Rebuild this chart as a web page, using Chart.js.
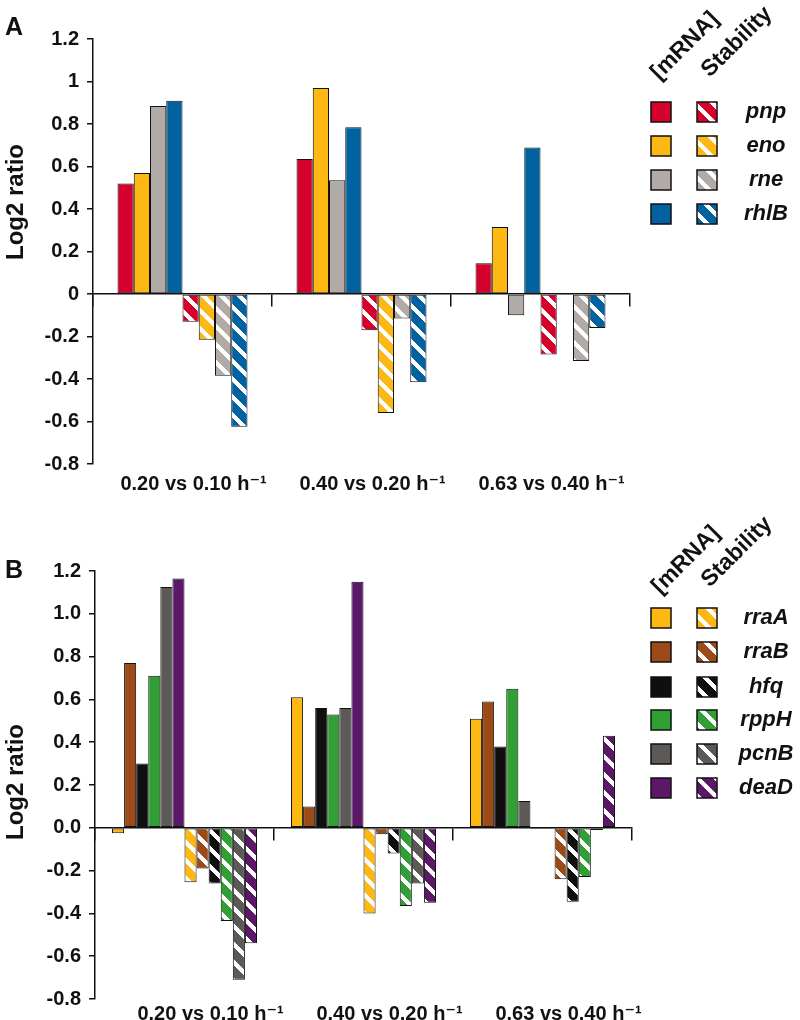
<!DOCTYPE html>
<html>
<head>
<meta charset="utf-8">
<title>Log2 ratio - mRNA and stability</title>
<script src="https://cdn.jsdelivr.net/npm/chart.js"></script>
<style>
body { margin: 0; background: #fff; }
canvas { display: block; }
</style>
</head>
<body>
<canvas id="chartA" width="800" height="510"></canvas>
<canvas id="chartB" width="800" height="510"></canvas>

<script>
// categories (growth rate comparisons)
const categories = ['0.20 vs 0.10 h\u207B\u00B9', '0.40 vs 0.20 h\u207B\u00B9', '0.63 vs 0.40 h\u207B\u00B9'];

// panel A
const genesA = ['pnp', 'eno', 'rne', 'rhlB'];
const colorsA = ['#D5002B', '#FDB813', '#B2AAA6', '#0062A1'];
const pnpMRNA  = [0.52, 0.635, 0.145];
const enoMRNA  = [0.57, 0.97, 0.315];
const rneMRNA  = [0.885, 0.535, -0.10];
const rhlBMRNA = [0.91, 0.785, 0.69];
const pnpStab  = [-0.13, -0.17, -0.285];
const enoStab  = [-0.215, -0.56, -0.005];
const rneStab  = [-0.385, -0.115, -0.315];
const rhlBStab = [-0.625, -0.415, -0.16];

// panel B
const genesB = ['rraA', 'rraB', 'hfq', 'rppH', 'pcnB', 'deaD'];
const colorsB = ['#FDB813', '#9C4A17', '#0F0F0F', '#30A035', '#5D5957', '#5D1769'];
const rraAMRNA = [-0.025, 0.61, 0.51];
const rraBMRNA = [0.77, 0.10, 0.59];
const hfqMRNA  = [0.30, 0.56, 0.38];
const rppHMRNA = [0.71, 0.53, 0.65];
const pcnBMRNA = [1.125, 0.56, 0.125];
const deaDMRNA = [1.165, 1.15, -0.006];
const rraAStab = [-0.255, -0.40, -0.006];
const rraBStab = [-0.19, -0.03, -0.24];
const hfqStab  = [-0.26, -0.12, -0.345];
const rppHStab = [-0.435, -0.365, -0.23];
const pcnBStab = [-0.71, -0.26, -0.01];
const deaDStab = [-0.54, -0.35, 0.43];

// y axis ticks
const yMin = -0.8, yMax = 1.2, yStep = 0.2;

const FONT = "'Liberation Sans', Arial, 'DejaVu Sans', sans-serif";
Chart.defaults.font.family = FONT;
Chart.defaults.color = '#111';

// diagonal white stripes like the excel pattern fill
function stripes(color) {
    var c = document.createElement('canvas');
    c.width = 18; c.height = 18;
    var g = c.getContext('2d');
    g.fillStyle = color;
    g.fillRect(0, 0, 18, 18);
    g.fillStyle = '#ffffff';
    for (var i = 0; i < 18; i++) {
        for (var j = 0; j < 18; j++) {
            if ((((j - i) % 18) + 18) % 18 < 6) g.fillRect(i, j, 1, 1);
        }
    }
    return g.createPattern(c, 'repeat');
}

function makeDatasets(genes, colors, mrna, stab) {
    const ds = [];
    genes.forEach((g, i) => ds.push({
        label: g + ' [mRNA]', gene: g, data: mrna[i], backgroundColor: colors[i]
    }));
    genes.forEach((g, i) => ds.push({
        label: g + ' Stability', gene: g, data: stab[i], backgroundColor: stripes(colors[i])
    }));
    ds.forEach(d => {
        d.xAxisID = 'x';
        d.yAxisID = 'y';
        d.borderColor = '#111';
        d.borderWidth = 1;
        d.borderSkipped = false;
        d.barPercentage = 1;
    });
    return ds;
}

// letter, axis title, rotated headers and two-column legend
const panelDecor = {
    id: 'panelDecor',
    afterDraw(chart, args, o) {
        const ctx = chart.ctx;
        ctx.save();
        ctx.fillStyle = '#111';
        ctx.font = 'bold 25px ' + FONT;
        ctx.textAlign = 'left';
        ctx.textBaseline = 'alphabetic';
        ctx.fillText(o.letter, 5, o.letterY);

        ctx.save();
        ctx.translate(16, o.titleY);
        ctx.rotate(-Math.PI / 2);
        ctx.font = 'bold 24px ' + FONT;
        ctx.textAlign = 'center';
        ctx.textBaseline = 'middle';
        ctx.fillText('Log2 ratio', 0, 0);
        ctx.restore();

        ctx.font = 'bold 23px ' + FONT;
        o.headers.forEach(h => {
            ctx.save();
            ctx.translate(h.x, h.y);
            ctx.rotate(-Math.PI / 4);
            ctx.textAlign = 'center';
            ctx.textBaseline = 'middle';
            ctx.fillText(h.text, 0, 0);
            ctx.restore();
        });

        const ds = chart.data.datasets;
        const n = o.rows.length;
        ctx.lineWidth = 1.5;
        ctx.strokeStyle = '#111';
        o.rows.forEach((ry, i) => {
            ctx.fillStyle = ds[i].backgroundColor;
            ctx.fillRect(651, ry - 10, 20, 20);
            ctx.strokeRect(651, ry - 10, 20, 20);
            ctx.fillStyle = ds[i + n].backgroundColor;
            ctx.fillRect(697, ry - 10, 20, 20);
            ctx.strokeRect(697, ry - 10, 20, 20);
            ctx.fillStyle = '#111';
            ctx.font = 'italic bold 22px ' + FONT;
            ctx.textAlign = 'center';
            ctx.textBaseline = 'middle';
            ctx.fillText(ds[i].gene, 766, ry);
        });
        ctx.restore();
    }
};

function makeChart(id, datasets, p) {
    return new Chart(document.getElementById(id), {
        type: 'bar',
        data: { labels: categories, datasets: datasets },
        plugins: [panelDecor],
        options: {
            responsive: false,
            animation: false,
            categoryPercentage: p.catPct,
            layout: { padding: { left: 0, top: p.top, right: 800 - p.right, bottom: 0 } },
            plugins: {
                legend: { display: false },
                tooltip: { enabled: false },
                panelDecor: p.decor
            },
            scales: {
                x: {
                    type: 'category',
                    position: 'bottom',
                    offset: true,
                    grid: { display: false, offset: true },
                    border: { display: false },
                    ticks: {
                        font: { size: 20, weight: 'bold' },
                        color: '#111',
                        padding: p.labelPad,
                        labelOffset: p.labelOffset,
                        maxRotation: 0,
                        autoSkip: false
                    },
                    afterFit: s => { s.height = 510 - p.bottom; }
                },
                x2: {
                    type: 'category',
                    position: { y: 0 },
                    offset: true,
                    grid: {
                        offset: true, drawOnChartArea: false, drawTicks: true,
                        tickLength: 12, color: '#111', lineWidth: 1.5
                    },
                    border: { display: true, color: '#111', width: 1.5 },
                    ticks: { display: false }
                },
                y: {
                    min: yMin,
                    max: yMax,
                    grid: {
                        drawOnChartArea: false, drawTicks: true,
                        tickLength: 6, color: '#111', lineWidth: 1.5
                    },
                    border: { display: true, color: '#111', width: 1.5 },
                    ticks: {
                        stepSize: yStep,
                        padding: 8,
                        color: '#111',
                        font: { size: 20, weight: 'bold' },
                        callback: p.tickFmt
                    },
                    afterFit: s => { s.width = p.left; }
                }
            }
        }
    });
}

const dsA = makeDatasets(genesA, colorsA,
    [pnpMRNA, enoMRNA, rneMRNA, rhlBMRNA],
    [pnpStab, enoStab, rneStab, rhlBStab]);

const dsB = makeDatasets(genesB, colorsB,
    [rraAMRNA, rraBMRNA, hfqMRNA, rppHMRNA, pcnBMRNA, deaDMRNA],
    [rraAStab, rraBStab, hfqStab, rppHStab, pcnBStab, deaDStab]);

makeChart('chartA', dsA, {
    left: 93, top: 39, right: 630, bottom: 464,
    catPct: 0.726, labelOffset: 11, labelPad: 0,
    tickFmt: v => { const r = Math.round(v * 10) / 10; return r === 0 ? '0' : String(r); },
    decor: {
        letter: 'A', letterY: 35, titleY: 202,
        headers: [{ text: '[mRNA]', x: 685, y: 46 }, { text: 'Stability', x: 737, y: 42 }],
        rows: [112, 146, 180, 214]
    }
});

makeChart('chartB', dsB, {
    left: 95, top: 61, right: 632, bottom: 489,
    catPct: 0.81, labelOffset: 26, labelPad: -5,
    tickFmt: v => { const r = Math.round(v * 10) / 10; return r === 0 ? '0.0' : r.toFixed(1); },
    decor: {
        letter: 'B', letterY: 68, titleY: 272,
        headers: [{ text: '[mRNA]', x: 686, y: 50 }, { text: 'Stability', x: 737, y: 42 }],
        rows: [108, 142, 177, 210, 244, 278]
    }
});
</script>
</body>
</html>
